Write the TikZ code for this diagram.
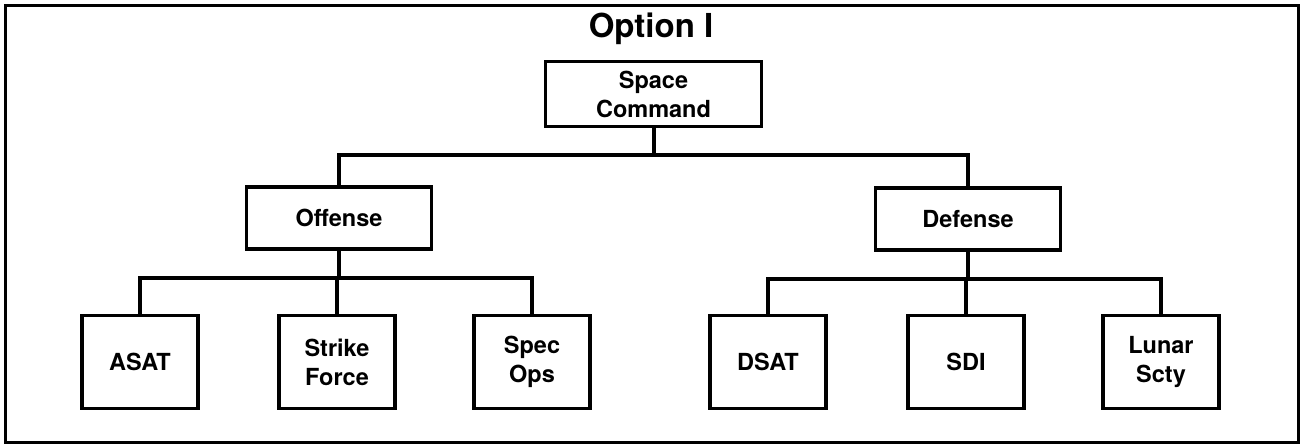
\documentclass[tikz,border=0pt]{standalone}
\usepackage{fontspec}
\setmainfont{TeX Gyre Heros}
\begin{document}
\begin{tikzpicture}[x=1pt,y=-1pt,
  box/.style={draw,line width=3.2pt,rectangle,inner sep=0pt,align=center,
    font=\fontsize{23.5}{29}\selectfont\bfseries},
  top/.style={box,minimum width=216pt,minimum height=65pt},
  mid/.style={box,minimum width=185pt,minimum height=62pt},
  leaf/.style={box,minimum width=116pt,minimum height=93pt},
  link/.style={line width=4pt,line cap=rect}]
\useasboundingbox (0,0) rectangle (1305,445);
\draw[line width=3pt] (5,5) rectangle (1298,442);
\node[font=\fontsize{33}{38}\selectfont\bfseries] (title) at (651,29) {Option I};
\node[top] (sc) at (653.5,94) {Space\\Command};
\node[mid] (off) at (339,218) {Offense};
\node[mid] (def) at (968,219) {Defense};
\node[leaf] (asat) at (140,362) {ASAT};
\node[leaf] (strike) at (337,362) {Strike\\Force};
\node[leaf] (spec) at (532,362) {Spec\\Ops};
\node[leaf] (dsat) at (768,362) {DSAT};
\node[leaf] (sdi) at (966,362) {SDI};
\node[leaf] (lunar) at (1161,362) {Lunar\\Scty};
\coordinate (j1) at (653.5,155);
\coordinate (j2) at (339,278);
\coordinate (j3) at (968,279);
\draw[link] (sc.south) -- (j1);
\draw[link] (off.north) |- (j1) -| (def.north);
\draw[link] (off.south) -- (j2);
\draw[link] (asat.north) |- (j2) -| (spec.north);
\draw[link] (strike.north) -- (strike.north |- j2);
\draw[link] (def.south) -- (j3);
\draw[link] (dsat.north) |- (j3) -| (lunar.north);
\draw[link] (sdi.north) -- (sdi.north |- j3);
\end{tikzpicture}
\end{document}
